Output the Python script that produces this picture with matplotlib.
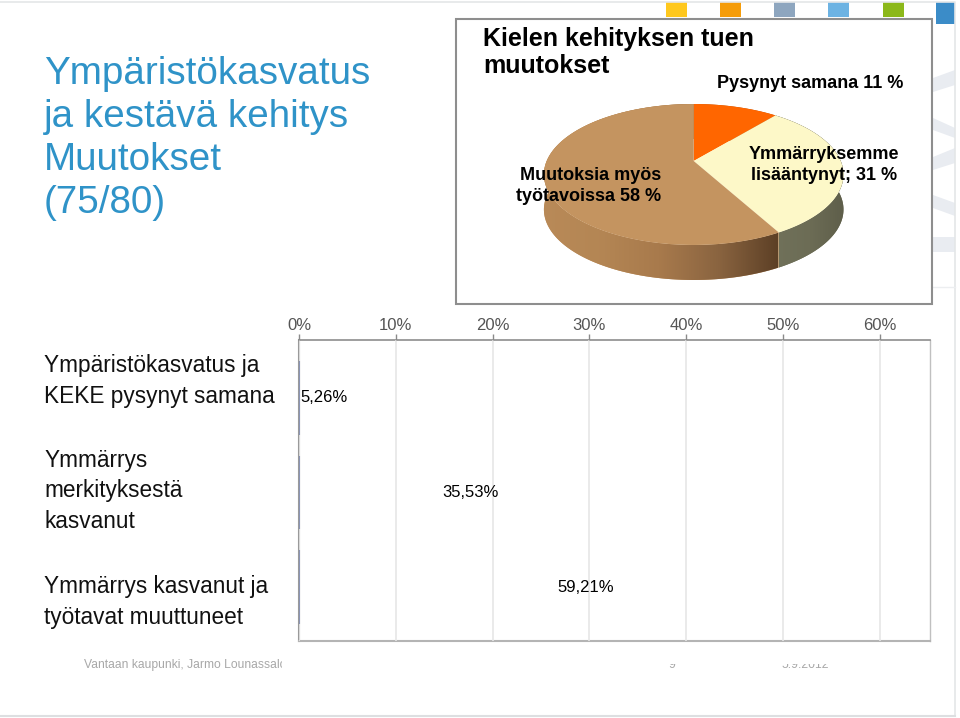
import numpy as np
import matplotlib
matplotlib.use("Agg")
import matplotlib.pyplot as plt
from matplotlib.colors import LinearSegmentedColormap
from matplotlib.patches import Rectangle, Polygon

plt.rcParams['font.family'] = ['Liberation Sans', 'DejaVu Sans']

W, H = 960, 718
DPI = 100

pie_labels = ["Pysynyt samana 11 %", "Ymmärryksemme\nlisääntynyt; 31 %", "Muutoksia myös\ntyötavoissa 58 %"]
pie_values = [11, 31, 58]
pie_colors = ["#ff6600", "#fdf8c8", "#c49460"]
side_colors = ["#b04a00", "#6f7058", "#c49460"]

bar_categories = ["Ympäristökasvatus ja\nKEKE pysynyt samana",
                  "Ymmärrys\nmerkityksestä\nkasvanut",
                  "Ymmärrys kasvanut ja\ntyötavat muuttuneet"]
bar_values = [5.26, 35.53, 59.21]
bar_labels = ["5,26%", "35,53%", "59,21%"]
x_ticks = [0, 10, 20, 30, 40, 50, 60]
x_tick_labels = ["0%", "10%", "20%", "30%", "40%", "50%", "60%"]
title_lines = "Ympäristökasvatus\nja kestävä kehitys\nMuutokset\n(75/80)"
pie_title = "Kielen kehityksen tuen\nmuutokset"
footer = ["Vantaan kaupunki, Jarmo Lounassalo", "9", "5.9.2012"]
swatches = ["#ffc81e", "#f59c0a", "#8ea6bf", "#6db3e3", "#8cb81a", "#3b8cc8"]


def px_axes(x0, y0, x1, y1, **kw):
    return fig.add_axes([x0 / W, 1 - y1 / H, (x1 - x0) / W, (y1 - y0) / H], **kw)


def txt(x, y, s, **kw):
    return fig.text(x / W, 1 - y / H, s, **kw)


fig = plt.figure(figsize=(W / DPI, H / DPI), dpi=DPI, facecolor="white")

# page-level background in pixel coordinates
bg = px_axes(0, 0, W, H, zorder=0)
bg.set_xlim(0, W)
bg.set_ylim(H, 0)
bg.axis("off")
bg.plot([0, 955, 955], [2, 2, 716], color="#e4e6e8", lw=1.2)
bg.plot([0, 955], [716, 716], color="#dddfe1", lw=1.5)
for sx, c in zip([666, 720, 774, 828, 883], swatches):
    bg.add_patch(Rectangle((sx, 2), 21, 15, color=c, lw=0))
bg.add_patch(Rectangle((936, 2), 19, 22, color=swatches[5], lw=0))
for poly in ([(933, 78), (955, 70), (955, 85), (933, 92)],
             [(933, 118), (955, 128), (955, 138), (933, 130)],
             [(933, 157), (955, 148), (955, 163), (933, 170)],
             [(933, 195), (955, 203), (955, 216), (933, 208)],
             [(933, 237), (955, 237), (955, 252), (933, 252)]):
    bg.add_patch(Polygon(poly, closed=True, color="#e9ecf1", lw=0))
bg.plot([933, 955], [287, 287], color="#eceef0", lw=1)

txt(44, 221, title_lines, color="#2f93c8", fontsize=27.8, ha="left", va="bottom", linespacing=1.25)

# framed pie panel
bg.add_patch(Rectangle((455.5, 18.5), 476, 285, fc="white", ec="#8e8e8e", lw=1.5, zorder=2))
txt(483, 78, pie_title, color="black", fontsize=18, fontweight="bold", ha="left", va="bottom", linespacing=1.18, zorder=5)

# pie: drawn from values, then tilted with a perspective projection
pie_ax = px_axes(455, 18, 932, 304, zorder=3)
pie_ax.patch.set_alpha(0)
wedges, _ = pie_ax.pie(pie_values, colors=pie_colors, startangle=90, counterclock=False, radius=1)
for w in wedges:
    w.remove()
pie_ax.set_aspect("auto")
pie_ax.axis("off")

CX, CY, RX, A, K, DEPTH = 693.7, 161.0, 147.0, 67.9, 0.1915, 35.0


def project(v):
    d = 1 + K * v[:, 1]
    return np.column_stack([CX + RX * v[:, 0] / d, CY - A * v[:, 1] / d])


theta_edges = np.cumsum([0] + pie_values) / sum(pie_values) * 2 * np.pi
grad = np.linspace(0, 1, 256)[None, :]
for i in range(len(pie_values)):
    th = np.linspace(theta_edges[i], theta_edges[i + 1], 200)
    rim = project(np.column_stack([np.sin(th), np.cos(th)]))
    low = rim + [0, DEPTH]
    side = Polygon(np.vstack([rim, low[::-1]]), closed=True, fc=side_colors[i], ec="none", zorder=1)
    pie_ax.add_patch(side)
    if i == 2:
        img = pie_ax.imshow(grad, extent=[540, 778, 304, 18], aspect="auto", zorder=1.5,
                            cmap=LinearSegmentedColormap.from_list(
                                "side", ["#b98a58", "#b48654", "#a87a4c", "#8a6440", "#5d4026"]))
        img.set_clip_path(side)
    elif i == 1:
        img = pie_ax.imshow(grad, extent=[776, 845, 304, 18], aspect="auto", zorder=1.5,
                            cmap=LinearSegmentedColormap.from_list(
                                "side2", ["#70715a", "#6c6c55", "#5e5e4a"]))
        img.set_clip_path(side)
    top = Polygon(np.vstack([[CX, CY], rim]), closed=True, fc=pie_colors[i], ec="none", zorder=3)
    pie_ax.add_patch(top)
pie_ax.set_xlim(455, 932)
pie_ax.set_ylim(304, 18)

txt(903, 84, pie_labels[0], fontsize=13, fontweight="bold", ha="right", va="center", zorder=6)
txt(899, 165, pie_labels[1], fontsize=13, fontweight="bold", ha="right", va="center", multialignment="center", linespacing=1.28, zorder=6)
txt(661, 186, pie_labels[2], fontsize=13, fontweight="bold", ha="right", va="center", multialignment="right", linespacing=1.28, zorder=6)

# horizontal bar chart
ax = px_axes(299, 340, 930, 641, zorder=3)
y = np.arange(len(bar_values))
ax.barh(y, bar_values, height=0.78, color="white", zorder=1)
ax.vlines(np.full(len(y), 0.05), y - 0.39, y + 0.39, color="#8a94b4", lw=1.5, zorder=4)
ax.set_xlim(0, 65.2)
ax.set_ylim(2.57, -0.613)
ax.set_xticks(x_ticks)
ax.set_xticklabels(x_tick_labels, fontsize=12, color="#555555")
ax.xaxis.tick_top()
ax.tick_params(axis="x", length=4, width=1, color="#8a8a8a", pad=1)
ax.set_yticks([])
ax.set_axisbelow(False)
ax.grid(axis="x", color="#e6e6e6", lw=1.2)
for s, c, lw in (("top", "#8e8e8e", 1.2), ("left", "#9a9a9a", 1.5), ("bottom", "#b4b4b4", 1.5), ("right", "#c0c0c0", 1)):
    ax.spines[s].set_color(c)
    ax.spines[s].set_linewidth(lw)
for yi, v, s in zip(y, bar_values, bar_labels):
    ax.text(v / 2, yi, s, ha="center", va="center", fontsize=12, color="black", zorder=5)

for yc, s in zip([381, 491, 602], bar_categories):
    txt(44, yc, s, fontsize=16.3, color="#111111", ha="left", va="center", linespacing=1.39)

# footer, partly hidden by the white block of the chart picture
bg.text(84, 665, footer[0], fontsize=8.7, color="#a8a8a8", ha="left", va="center", zorder=1)
bg.text(672, 665, footer[1], fontsize=8.7, color="#a8a8a8", ha="center", va="center", zorder=1)
bg.text(805, 665, footer[2], fontsize=8.7, color="#a8a8a8", ha="center", va="center", zorder=1)
bg.add_patch(Rectangle((282, 645), 650, 19, fc="white", ec="none", zorder=1.5))
bg.add_patch(Rectangle((282, 660), 20, 16, fc="white", ec="none", zorder=1.5))

fig.savefig("out.png", dpi=DPI)
